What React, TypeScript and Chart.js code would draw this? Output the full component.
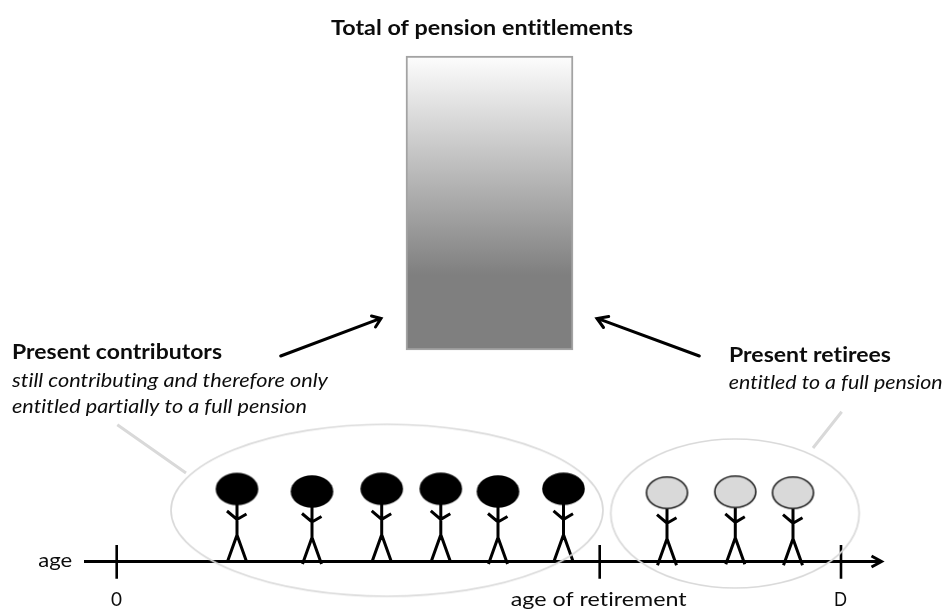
import React, { useEffect, useRef } from "react";
import { Chart, registerables } from "chart.js";

Chart.register(...registerables);

// Pyramid of people along the age axis: [x, head centre y]
const contributors: [number, number][] = [
  [237, 489], [312, 491.5], [381.7, 488.8], [440.8, 488.8], [498, 491.5], [563.5, 488.8],
];
const retirees: [number, number][] = [
  [667, 492.7], [735.3, 491.8], [793, 492.7],
];
// Stick figure shape relative to the head centre
const figureStrokes: [number, number][][] = [
  [[0, 14], [0, 46]],
  [[-10, 22], [0, 30.5], [9.5, 25]],
  [[-9.5, 72.5], [0, 46], [9.5, 72.5]],
];

const barX = 489.5;
const barSpan: [number, number] = [56, 350];

const ageAxis: [number, number][] = [[84, 561.5], [880, 561.5]];
const axisArrow: [number, number][] = [[871.5, 556], [881.5, 561.5], [871.5, 567]];
const ageTicks: [number, number, number][] = [[116.7, 545, 578.7], [599.7, 545, 578.7], [841, 545, 578.7]];

const leftArrow: [number, number][][] = [
  [[280.7, 356], [380, 318.6]],
  [[371.5, 316], [381, 318.5], [375.5, 327]],
];
const rightArrow: [number, number][][] = [
  [[699.3, 356], [598, 318.6]],
  [[608.7, 316.5], [597, 318.5], [603.5, 327.5]],
];
const calloutLines: [number, number][][] = [
  [[117.3, 424.7], [186, 473]],
  [[813, 448], [841.7, 411.7]],
];

const groupEllipses: [number, number, number, number][] = [
  [387, 510.3, 216, 86],
  [735, 513.5, 124.2, 74.5],
];

// text, x, baseline y, target width, style
const labels: [string, number, number, number, string][] = [
  ["Total of pension entitlements", 331, 34.5, 302, "bold"],
  ["Present contributors", 12, 359, 210, "bold"],
  ["still contributing and therefore only", 12, 387, 316, "italic"],
  ["entitled partially to a full pension", 12, 413, 295, "italic"],
  ["Present retirees", 729, 362, 162, "bold"],
  ["entitled to a full pension", 728.7, 389, 214, "italic"],
  ["age", 38.3, 566.5, 34, "normal"],
  ["0", 111, 606, 11, "normal"],
  ["age of retirement", 510.7, 606, 176, "normal"],
  ["D", 834, 606, 13, "normal"],
];

const FONT = "Lato";

function sprite(rx: number, ry: number, fill: string, stroke: string, lw: number) {
  const c = document.createElement("canvas");
  c.width = Math.ceil(rx * 2 + lw + 4);
  c.height = Math.ceil(ry * 2 + lw + 4);
  const g = c.getContext("2d")!;
  g.beginPath();
  g.ellipse(c.width / 2, c.height / 2, rx, ry, 0, 0, Math.PI * 2);
  if (fill !== "none") {
    g.fillStyle = fill;
    g.fill();
  }
  if (lw > 0) {
    g.strokeStyle = stroke;
    g.lineWidth = lw;
    g.stroke();
  }
  return c;
}

const toPts = (paths: [number, number][][]) => {
  const out: { x: number; y: number | null }[] = [];
  paths.forEach((p, i) => {
    if (i) out.push({ x: p[0][0], y: null });
    p.forEach(([x, y]) => out.push({ x, y }));
  });
  return out;
};

const figurePaths = (people: [number, number][]) =>
  people.flatMap(([px, py]) =>
    figureStrokes.map((s) => s.map(([dx, dy]) => [px + dx, py + dy] as [number, number]))
  );

const lineDs = (paths: [number, number][][], color: string, width: number, order: number, cap = "butt") => ({
  type: "scatter" as const,
  data: toPts(paths),
  showLine: true,
  spanGaps: false,
  borderColor: color,
  backgroundColor: color,
  borderWidth: width,
  borderCapStyle: cap,
  borderJoinStyle: "miter",
  pointRadius: 0,
  pointHoverRadius: 0,
  order,
});

const textPlugin = {
  id: "diagramText",
  afterDraw(chart: any) {
    const { ctx, scales } = chart;
    ctx.save();
    ctx.fillStyle = "#0c0c0c";
    ctx.textBaseline = "alphabetic";
    ctx.textAlign = "left";
    ctx.letterSpacing = "0.01px"; // turns off the "ti" ligature
    labels.forEach(([t, x, y, w, style]) => {
      ctx.font = `${style} 20px ${FONT}`;
      const m = ctx.measureText(t).width;
      const px = scales.x.getPixelForValue(x);
      const py = scales.y.getPixelForValue(y);
      ctx.save();
      ctx.translate(px, py);
      ctx.scale(w / m, 1);
      ctx.fillText(t, 0, 0);
      ctx.restore();
    });
    ctx.restore();
  },
};

export default function App() {
  const ref = useRef<HTMLCanvasElement>(null);
  useEffect(() => {
    if (!ref.current) return;
    const pointDs = (data: [number, number][], style: HTMLCanvasElement, order: number) => ({
      type: "scatter" as const,
      data: data.map(([x, y]) => ({ x, y })),
      pointStyle: style,
      pointRadius: 10,
      showLine: false,
      order,
    });
    const ctx2d = ref.current.getContext("2d")!;
    const barGradient = ctx2d.createLinearGradient(0, barSpan[0], 0, barSpan[1]);
    barGradient.addColorStop(0, "#fdfdfd");
    barGradient.addColorStop(0.745, "#7f7f7f");
    barGradient.addColorStop(1, "#7f7f7f");
    const chart = new Chart(ref.current, {
      type: "bar",
      data: {
        datasets: [
          {
            type: "bar",
            data: [{ x: barX, y: barSpan }],
            barThickness: 167,
            borderWidth: 2,
            borderSkipped: false,
            borderColor: "#a3a3a3",
            backgroundColor: barGradient,
            order: 10,
          },
          lineDs(figurePaths(contributors), "#000", 3, 7),
          lineDs(figurePaths(retirees), "#000", 3, 7),
          lineDs([ageAxis], "#000", 3, 8),
          lineDs([axisArrow], "#000", 3, 8),
          lineDs(ageTicks.map(([x, a, b]) => [[x, a], [x, b]] as [number, number][]), "#000", 2.6, 8),
          lineDs(leftArrow, "#000", 3, 6, "round"),
          lineDs(rightArrow, "#000", 3, 6, "round"),
          lineDs(calloutLines, "#d9d9d9", 3, 4),
          pointDs(contributors, sprite(21.3, 16.2, "#000", "#000", 0), 5),
          pointDs(retirees, sprite(20.5, 15.7, "#d9d9d9", "#222", 1.6), 5),
          pointDs(groupEllipses.slice(0, 1).map(([x, y]) => [x, y]), sprite(groupEllipses[0][2], groupEllipses[0][3], "none", "#dadada", 1.7), 3),
          pointDs(groupEllipses.slice(1).map(([x, y]) => [x, y]), sprite(groupEllipses[1][2], groupEllipses[1][3], "none", "#dadada", 1.7), 3),
        ] as any,
      },
      options: {
        responsive: false,
        animation: false,
        events: [],
        layout: { padding: 0, autoPadding: false },
        plugins: { legend: { display: false }, tooltip: { enabled: false } },
        scales: {
          x: { type: "linear", min: 0, max: 947, display: false, offset: false },
          y: { type: "linear", min: 0, max: 610, reverse: true, display: false },
        },
      } as any,
      plugins: [textPlugin],
    });
    return () => chart.destroy();
  }, []);
  return (
    <div style={{ position: "absolute", left: 0, top: 0, width: 947, height: 610 }}>
      <canvas ref={ref} width={947} height={610} style={{ display: "block" }} />
    </div>
  );
}
